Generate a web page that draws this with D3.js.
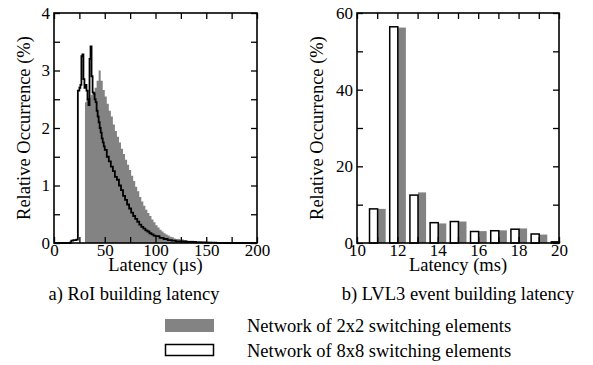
<!DOCTYPE html>
<html>
<head>
<meta charset="utf-8">
<script src="https://cdn.jsdelivr.net/npm/d3@7"></script>
<style>
  body { margin: 0; background: #fff; }
  text { font-family: "Liberation Serif", "Times New Roman", serif; fill: #000; }
</style>
</head>
<body>
<svg id="chart" width="593" height="365"></svg>
<script>
// ---- data ----
// a) RoI building latency, 2x2 network: [latency (us), relative occurrence (%)]
const roiGrey = [
  [30.5, 2.45], [32, 2.5], [34, 2.52], [36, 2.58], [38, 2.62], [40, 2.7], [42, 2.82], [44, 3.0],
  [46, 2.82], [48, 2.66], [50, 2.55], [52, 2.42], [54, 2.3], [56, 2.2], [58, 2.06], [60, 1.95],
  [62, 1.85], [64, 1.75], [66, 1.64], [68, 1.55], [70, 1.45], [72, 1.36], [74, 1.27], [76, 1.17],
  [78, 1.08], [80, 0.98], [82, 0.9], [84, 0.8], [86, 0.72], [88, 0.65], [90, 0.58], [92, 0.52],
  [94, 0.47], [96, 0.41], [98, 0.36], [100, 0.31], [102, 0.27], [104, 0.23], [106, 0.2], [108, 0.17],
  [110, 0.15], [112, 0.13], [114, 0.11], [116, 0.1], [118, 0.08], [120, 0.07], [124, 0.06], [128, 0.05],
  [132, 0.04], [138, 0.03], [146, 0.02], [156, 0.01], [170, 0]
];
// a) RoI building latency, 8x8 network
const roiBlack = [
  [0, 0], [16, 0.01], [17, 0.04], [19, 0.05], [22, 0.06], [23.5, 2.65], [25, 2.7], [26, 2.75],
  [27, 3.25], [28, 3.28], [29, 2.85], [30, 2.7], [31, 2.75], [32, 2.65], [33, 2.5], [34, 2.4],
  [35, 3.2], [36, 3.42], [37, 2.9], [38, 2.62], [39, 2.6], [40, 2.5], [41, 2.45], [42, 2.3],
  [43, 2.2], [44, 2.1], [45, 2.0], [46, 1.92], [47, 1.82], [48, 1.75], [49, 1.68], [50, 1.62],
  [52, 1.5], [54, 1.42], [56, 1.33], [58, 1.25], [60, 1.15], [62, 1.1], [64, 1.0], [66, 0.92],
  [68, 0.82], [70, 0.75], [72, 0.67], [74, 0.6], [76, 0.53], [78, 0.47], [80, 0.42], [82, 0.37],
  [84, 0.32], [86, 0.28], [88, 0.25], [90, 0.22], [92, 0.2], [94, 0.17], [96, 0.15], [98, 0.13],
  [100, 0.12], [104, 0.09], [108, 0.07], [112, 0.05], [116, 0.04], [120, 0.03], [130, 0.02],
  [140, 0.01], [150, 0.005], [160, 0], [200, 0]
];

// b) LVL3 event building latency (ms)
const lvl3Latency = [11, 12, 13, 14, 15, 16, 17, 18, 19, 20];
const lvl3Grey  = [8.9, 56.2, 13.2, 5.1, 5.6, 3.1, 3.3, 3.8, 2.2, 0];
const lvl3White = [8.9, 56.4, 12.5, 5.3, 5.6, 3.0, 3.2, 3.6, 2.35, 0.3];

const legendLabels = ["Network of 2x2 switching elements", "Network of 8x8 switching elements"];

// ---- setup ----
const svg = d3.select("#chart");
const grey = "#838383";
const fs = 18.5;     // titles, captions, legend
const tickFs = 17;   // tick labels

// frame + inward ticks on all four sides
function frame(g, x, y, xMajor, xMinor, yMajor, yMinor) {
  const [x0, x1] = x.range(), [y0, y1] = y.range();
  const tl = 6;
  // bottom with labels
  g.append("g").attr("transform", `translate(0,${y0})`)
    .call(d3.axisBottom(x).tickValues(xMinor).tickSize(-tl).tickFormat("").tickSizeOuter(0));
  g.append("g").attr("transform", `translate(0,${y0})`)
    .call(d3.axisBottom(x).tickValues(xMajor).tickSize(-tl).tickPadding(1)
      .tickFormat(d3.format("d")).tickSizeOuter(0));
  // top
  g.append("g").attr("transform", `translate(0,${y1})`)
    .call(d3.axisTop(x).tickValues(xMajor.concat(xMinor)).tickSize(-tl).tickFormat("").tickSizeOuter(0));
  // left with labels
  g.append("g").attr("transform", `translate(${x0},0)`)
    .call(d3.axisLeft(y).tickValues(yMinor).tickSize(-tl).tickFormat("").tickSizeOuter(0));
  g.append("g").attr("transform", `translate(${x0},0)`)
    .call(d3.axisLeft(y).tickValues(yMajor).tickSize(-tl).tickPadding(4)
      .tickFormat(d3.format("d")).tickSizeOuter(0));
  // right
  g.append("g").attr("transform", `translate(${x1},0)`)
    .call(d3.axisRight(y).tickValues(yMajor.concat(yMinor)).tickSize(-tl).tickFormat("").tickSizeOuter(0));

  g.selectAll(".domain").remove();
  g.selectAll(".tick line").attr("stroke", "#000").attr("stroke-width", 1.3);
  g.selectAll(".tick text")
    .style("font-family", "'Liberation Serif', serif")
    .style("font-size", tickFs + "px").attr("fill", "#000");

  g.append("rect")
    .attr("x", x0).attr("y", y1)
    .attr("width", x1 - x0).attr("height", y0 - y1)
    .attr("fill", "none").attr("stroke", "#000").attr("stroke-width", 1.6);
}

function labels(g, x, y, xTitle, yTitleX, caption, captionX) {
  const [x0, x1] = x.range(), [y0, y1] = y.range();
  g.append("text")
    .attr("x", (x0 + x1) / 2).attr("y", 271)
    .attr("text-anchor", "middle").style("font-size", fs + "px")
    .text(xTitle);
  g.append("text")
    .attr("transform", `translate(${yTitleX},${(y0 + y1) / 2}) rotate(-90)`)
    .attr("text-anchor", "middle").attr("dy", "0.35em").style("font-size", fs + "px")
    .text("Relative Occurrence (%)");
  g.append("text")
    .attr("x", captionX).attr("y", 300)
    .attr("text-anchor", "middle").style("font-size", fs + "px")
    .text(caption);
}

// ---- a) RoI building latency ----
const xa = d3.scaleLinear().domain([0, 200]).range([54, 257]);
const ya = d3.scaleLinear().domain([0, 4]).range([243, 13]);
const ga = svg.append("g");

ga.append("path")
  .datum(roiGrey)
  .attr("d", d3.area().curve(d3.curveStepAfter)
    .x(d => xa(d[0])).y0(ya(0)).y1(d => ya(d[1])))
  .attr("fill", grey);

ga.append("path")
  .datum(roiBlack)
  .attr("d", d3.line().curve(d3.curveStepAfter)
    .x(d => xa(d[0])).y(d => ya(d[1])))
  .attr("fill", "none").attr("stroke", "#000").attr("stroke-width", 1.8);

frame(ga, xa, ya, [0, 50, 100, 150, 200], [25, 75, 125, 175],
  [0, 1, 2, 3, 4], [0.5, 1.5, 2.5, 3.5]);
labels(ga, xa, ya, "Latency (\u00b5s)", 24, "a) RoI building latency", 134);

// ---- b) LVL3 event building latency ----
const xb = d3.scaleLinear().domain([10, 20]).range([357, 559]);
const yb = d3.scaleLinear().domain([0, 60]).range([243, 13]);
const gb = svg.append("g");

gb.selectAll("rect.grey")
  .data(lvl3Latency)
  .join("rect")
  .attr("class", "grey")
  .attr("x", d => xb(d + 0.02))
  .attr("width", xb(10.4) - xb(10))
  .attr("y", (d, i) => yb(lvl3Grey[i]))
  .attr("height", (d, i) => yb(0) - yb(lvl3Grey[i]))
  .attr("fill", grey);

gb.selectAll("rect.white")
  .data(lvl3Latency)
  .join("rect")
  .attr("class", "white")
  .attr("x", d => xb(d - 0.38))
  .attr("width", xb(10.4) - xb(10))
  .attr("y", (d, i) => yb(lvl3White[i]))
  .attr("height", (d, i) => yb(0) - yb(lvl3White[i]))
  .attr("fill", "#fff").attr("stroke", "#000").attr("stroke-width", 1.5);

frame(gb, xb, yb, [10, 12, 14, 16, 18, 20], [11, 13, 15, 17, 19],
  [0, 20, 40, 60], [10, 30, 50]);
labels(gb, xb, yb, "Latency (ms)", 317, "b) LVL3 event building latency", 458);

// ---- legend ----
const lg = svg.append("g");
lg.append("rect").attr("x", 165).attr("y", 319).attr("width", 49).attr("height", 13).attr("fill", grey);
lg.append("rect").attr("x", 165.5).attr("y", 344.5).attr("width", 48).attr("height", 11)
  .attr("fill", "#fff").attr("stroke", "#000").attr("stroke-width", 1.5);
lg.selectAll("text.leg")
  .data(legendLabels)
  .join("text")
  .attr("class", "leg")
  .attr("x", 247).attr("y", (d, i) => 332 + i * 24.5)
  .style("font-size", fs + "px")
  .text(d => d);
</script>
</body>
</html>
